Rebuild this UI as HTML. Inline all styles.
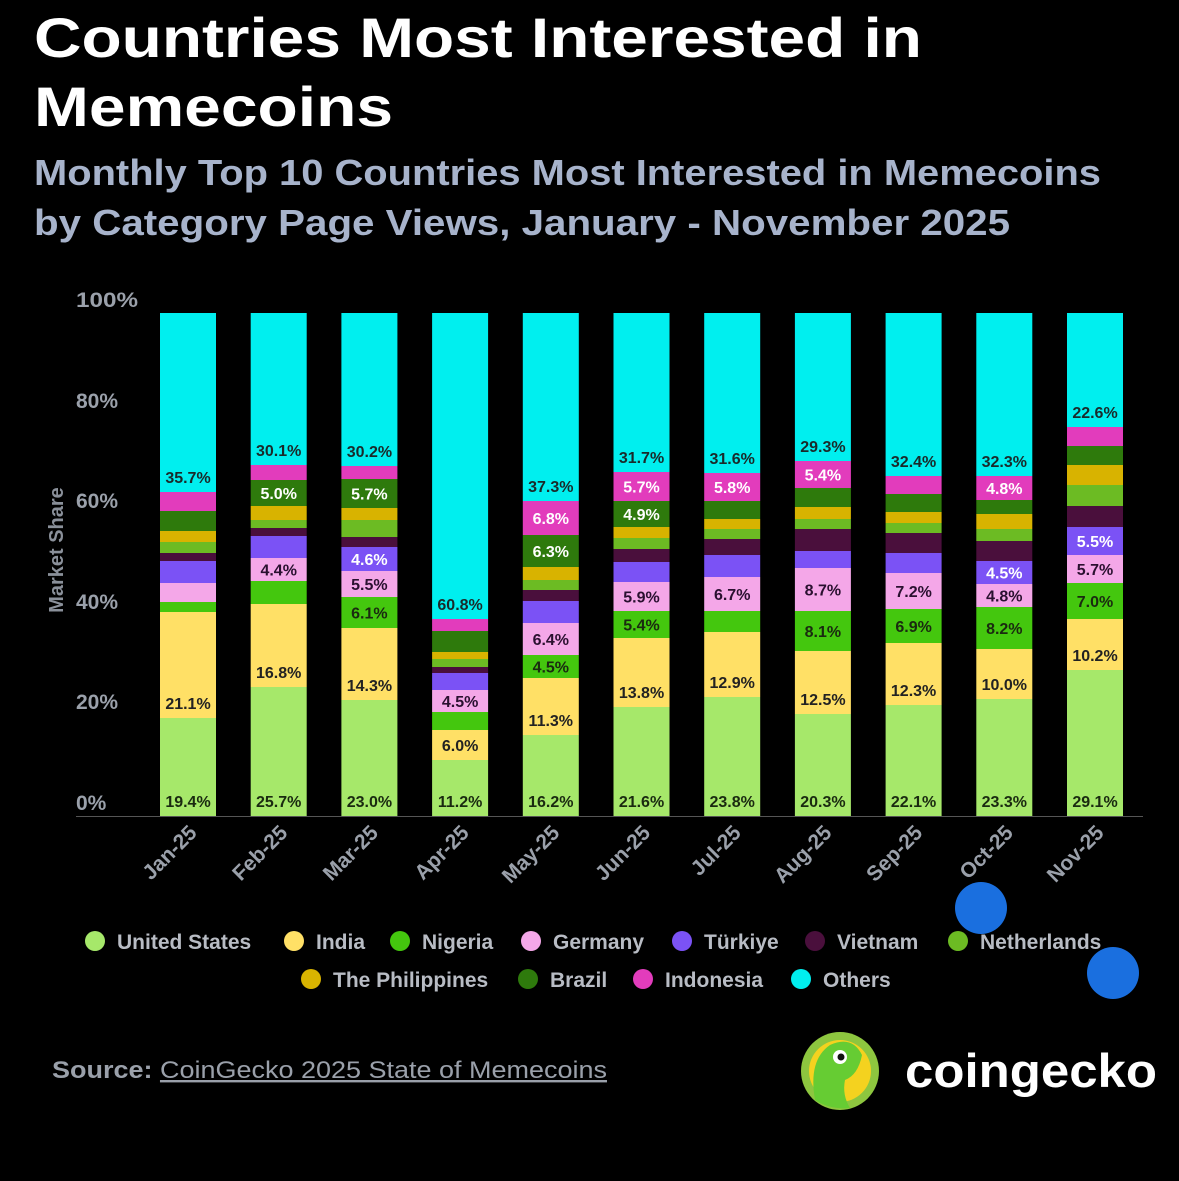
<!DOCTYPE html>
<html><head><meta charset="utf-8"><style>
html,body{margin:0;padding:0;background:#000;}
body{width:1179px;height:1176px;overflow:hidden;font-family:"Liberation Sans",sans-serif;}
</style></head><body>
<svg id="s" width="1179" height="1176" xmlns="http://www.w3.org/2000/svg" font-family="Liberation Sans, sans-serif">
<text x="34" y="57" font-size="56" font-weight="bold" fill="#fff" textLength="888" lengthAdjust="spacingAndGlyphs">Countries Most Interested in</text>
<text x="34" y="126" font-size="56" font-weight="bold" fill="#fff" textLength="359" lengthAdjust="spacingAndGlyphs">Memecoins</text>
<text x="34" y="185" font-size="36" font-weight="bold" fill="#a7b3cb" textLength="1067" lengthAdjust="spacingAndGlyphs">Monthly Top 10 Countries Most Interested in Memecoins</text>
<text x="34" y="235" font-size="36" font-weight="bold" fill="#a7b3cb" textLength="976" lengthAdjust="spacingAndGlyphs">by Category Page Views, January - November 2025</text>
<g font-size="21" fill="#9aa0aa" font-weight="bold">
<text x="76" y="307" textLength="62" lengthAdjust="spacingAndGlyphs">100%</text><text x="76" y="408">80%</text><text x="76" y="508">60%</text>
<text x="76" y="609">40%</text><text x="76" y="709">20%</text><text x="76" y="810">0%</text>
</g>
<text transform="translate(63,550) rotate(-90)" text-anchor="middle" font-size="20" fill="#8a909a" font-weight="bold">Market Share</text>
<line x1="76" y1="816.5" x2="1143" y2="816.5" stroke="#555" stroke-width="1"/>
<g id="bars"></g>
<g id="leg" font-size="21" fill="#b8bcc4" font-weight="bold"></g>
<circle cx="981" cy="908" r="26" fill="#1a6fdf"/>
<circle cx="1113" cy="973" r="26" fill="#1a6fdf"/>
<text x="52" y="1078" font-size="24" fill="#9aa0aa" font-weight="bold" textLength="555" lengthAdjust="spacingAndGlyphs">Source: <tspan font-weight="normal" text-decoration="underline">CoinGecko 2025 State of Memecoins</tspan></text>
<circle cx="840" cy="1071" r="39" fill="#8dc63f"/>
<circle cx="840" cy="1071" r="31" fill="#f4d21f"/>
<path d="M815 1100 Q808 1060 830 1045 Q852 1035 862 1055 Q858 1075 845 1080 Q842 1095 850 1108 Q830 1110 815 1100Z" fill="#66cc33"/>
<circle cx="840" cy="1057" r="7" fill="#fff"/><circle cx="841" cy="1057" r="3.5" fill="#111"/>
<text x="905" y="1087" font-size="47" font-weight="bold" fill="#fff" textLength="252" lengthAdjust="spacingAndGlyphs">coingecko</text>
</svg>
<script>
var C=["#00efef","#e23cbc","#2e7a0c","#d8b300","#6cbb23","#4a0f3c","#7b52f5","#f4a7e8","#44c70e","#ffe066","#a6e86a"];
var TC=["#1a2a2a","#fff","#fff","#222","#222","#fff","#fff","#2a1030","#1a2a10","#222","#1a2a10"];
var B=[
[313,492,511,531,542,553,561,583,602,612,718,816],
[313,465,480,506,520,528,536,558,581,604,687,816],
[313,466,479,508,520,537,547,571,597,628,700,816],
[313,619,631,652,659,667,673,690,712,730,760,816],
[313,501,535,567,580,590,601,623,655,678,735,816],
[313,472,501,527,538,549,562,582,611,638,707,816],
[313,473,501,519,529,539,555,577,611,632,697,816],
[313,461,488,507,519,529,551,568,611,651,714,816],
[313,476,494,512,523,533,553,573,609,643,705,816],
[313,476,500,514,529,541,561,584,607,649,699,816],
[313,427,446,465,485,506,527,555,583,619,670,816]];
var L=[
{0:"35.7%",9:"21.1%",10:"19.4%"},
{0:"30.1%",2:"5.0%",7:"4.4%",9:"16.8%",10:"25.7%"},
{0:"30.2%",2:"5.7%",6:"4.6%",7:"5.5%",8:"6.1%",9:"14.3%",10:"23.0%"},
{0:"60.8%",7:"4.5%",9:"6.0%",10:"11.2%"},
{0:"37.3%",1:"6.8%",2:"6.3%",7:"6.4%",8:"4.5%",9:"11.3%",10:"16.2%"},
{0:"31.7%",1:"5.7%",2:"4.9%",7:"5.9%",8:"5.4%",9:"13.8%",10:"21.6%"},
{0:"31.6%",1:"5.8%",7:"6.7%",9:"12.9%",10:"23.8%"},
{0:"29.3%",1:"5.4%",7:"8.7%",8:"8.1%",9:"12.5%",10:"20.3%"},
{0:"32.4%",7:"7.2%",8:"6.9%",9:"12.3%",10:"22.1%"},
{0:"32.3%",1:"4.8%",6:"4.5%",7:"4.8%",8:"8.2%",9:"10.0%",10:"23.3%"},
{0:"22.6%",6:"5.5%",7:"5.7%",8:"7.0%",9:"10.2%",10:"29.1%"}];
var M=["Jan-25","Feb-25","Mar-25","Apr-25","May-25","Jun-25","Jul-25","Aug-25","Sep-25","Oct-25","Nov-25"];
var g=document.getElementById("bars"),h="";
for(var i=0;i<11;i++){var x=160+i*90.7,cx=x+28;
for(var k=0;k<11;k++){h+='<rect x="'+x.toFixed(1)+'" y="'+B[i][k]+'" width="56" height="'+(B[i][k+1]-B[i][k])+'" fill="'+C[k]+'"/>';}
for(var k in L[i]){var kk=+k,y;if(kk==0||kk==9||kk==10)y=B[i][kk+1]-9;else y=(B[i][kk]+B[i][kk+1])/2+6;
h+='<text x="'+cx.toFixed(1)+'" y="'+y+'" text-anchor="middle" font-size="16" font-weight="bold" fill="'+TC[kk]+'">'+L[i][k]+'</text>';}
h+='<text transform="translate('+(cx+10).toFixed(1)+',834) rotate(-45)" text-anchor="end" font-size="21" fill="#9aa0aa" font-weight="bold">'+M[i]+'</text>';}
g.innerHTML=h;
var LG=[[95,941,"#a6e86a","United States"],[294,941,"#ffe066","India"],[400,941,"#44c70e","Nigeria"],[531,941,"#f4a7e8","Germany"],[682,941,"#7b52f5","Türkiye"],[815,941,"#4a0f3c","Vietnam"],[958,941,"#6cbb23","Netherlands"],[311,979,"#d8b300","The Philippines"],[528,979,"#2e7a0c","Brazil"],[643,979,"#e23cbc","Indonesia"],[801,979,"#00efef","Others"]];
var lh="";LG.forEach(function(e){lh+='<circle cx="'+e[0]+'" cy="'+e[1]+'" r="10" fill="'+e[2]+'"/><text x="'+(e[0]+22)+'" y="'+(e[1]+8)+'">'+e[3]+'</text>';});
document.getElementById("leg").innerHTML=lh;
</script>
</body></html>
